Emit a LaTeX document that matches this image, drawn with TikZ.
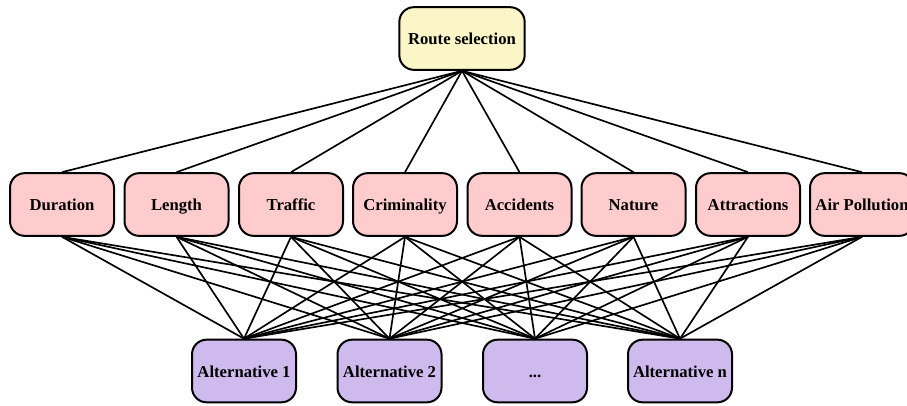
\documentclass[tikz,border=0pt]{standalone}
\usepackage{fontspec}
\setmainfont{Liberation Serif}
\usetikzlibrary{positioning}
\definecolor{goalfill}{RGB}{250,246,200}
\definecolor{critfill}{RGB}{255,204,206}
\definecolor{altfill}{RGB}{206,186,236}
\tikzset{box/.style={draw,line width=1.5pt,rounded corners=11pt,minimum width=78pt,minimum height=47pt,inner xsep=0pt,text height=2.2ex,text depth=0.1ex,font=\fontsize{12.5}{14}\selectfont\bfseries},
         goal/.style={box,fill=goalfill,minimum width=94pt},
         crit/.style={box,fill=critfill},
         alt/.style={box,fill=altfill},
         link/.style={line width=1.25pt}}

\begin{document}
\begin{tikzpicture}[x=0.75pt,y=-0.75pt]
        \useasboundingbox (0,0) rectangle (907,405);
        \node[goal](goal)at(462,38.5){Route selection};

        \node[crit](c1)at(62,204.5){Duration};
        \node[crit](c2)at(176.5,204.5){Length};
        \node[crit](c3)at(291,204.5){Traffic};
        \node[crit](c4)at(405,204.5){Criminality};
        \node[crit](c5)at(519.5,204.5){Accidents};
        \node[crit](c6)at(633.5,204.5){Nature};
        \node[crit](c7)at(748,204.5){Attractions};
        \node[crit](c8)at(862,204.5){Air Pollution};

        \node[alt](a1)at(244,371){Alternative 1};
        \node[alt](a2)at(389.5,371){Alternative 2};
        \node[alt](a3)at(535,371){...};
        \node[alt](a4)at(680,371){Alternative n};

        \foreach \c in {1,...,8}{
            \draw[link](goal.south)--(c\c.north);
            \foreach \a in {1,...,4}
                \draw[link](c\c.south)--(a\a.north);
        }
    \end{tikzpicture}
\end{document}
